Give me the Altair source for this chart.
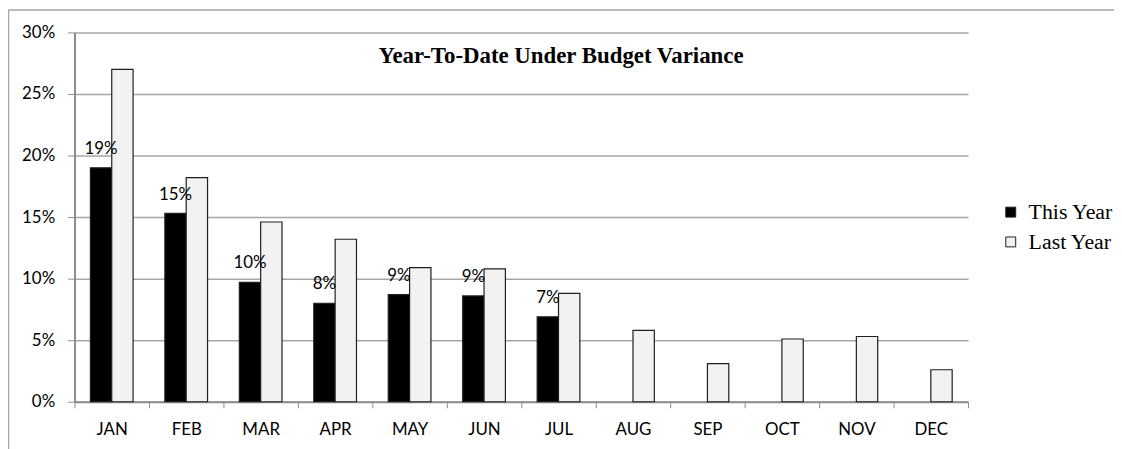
import altair as alt
import pandas as pd

months = ["JAN", "FEB", "MAR", "APR", "MAY", "JUN", "JUL", "AUG", "SEP", "OCT", "NOV", "DEC"]
this_year = [19.0, 15.3, 9.7, 8.0, 8.7, 8.6, 6.9, None, None, None, None, None]
last_year = [27.0, 18.2, 14.6, 13.2, 10.9, 10.8, 8.8, 5.8, 3.1, 5.1, 5.3, 2.6]
series = ["This Year", "Last Year"]
y_ticks = [0, 0.05, 0.10, 0.15, 0.20, 0.25, 0.30]
title_text = "Year-To-Date Under Budget Variance"

rows = []
for m, t, l in zip(months, this_year, last_year):
    if t is not None:
        rows.append({"month": m, "series": "This Year", "value": t / 100})
    rows.append({"month": m, "series": "Last Year", "value": l / 100})
df = pd.DataFrame(rows)

AXIS_FONT = "Lato"
GRID = "#a6a6a6"
DOMAIN = "#8c8c8c"

x_enc = alt.X(
    "month:N", sort=months,
    scale=alt.Scale(domain=months, paddingInner=0, paddingOuter=0),
    axis=alt.Axis(title=None, labelAngle=0, tickBand="extent", tickSize=6,
                  tickColor=DOMAIN, domainColor=DOMAIN, domainWidth=2,
                  labelFont=AXIS_FONT, labelFontSize=17, labelColor="#000",
                  labelPadding=14, grid=False),
)
xoff_enc = alt.XOffset("series:N", sort=series,
                       scale=alt.Scale(domain=series, paddingInner=0, paddingOuter=0.744))
y_enc = alt.Y(
    "value:Q",
    scale=alt.Scale(domain=[0, 0.3], nice=False),
    axis=alt.Axis(title=None, format=".0%", values=y_ticks, tickSize=7,
                  tickColor=DOMAIN, domainColor=DOMAIN, domainWidth=2,
                  gridColor=GRID, gridWidth=1.5,
                  labelFont=AXIS_FONT, labelFontSize=17, labelColor="#000",
                  labelPadding=13),
)

base = alt.Chart(df)

bars = base.mark_bar(stroke="#1f1f1f", strokeWidth=1.2).encode(
    x=x_enc,
    xOffset=xoff_enc,
    y=y_enc,
    fill=alt.Fill(
        "series:N",
        scale=alt.Scale(domain=series, range=["#000000", "#f2f2f2"]),
        legend=alt.Legend(
            title=None, orient="none", legendX=932, legendY=170,
            symbolType="square", symbolSize=100, symbolStrokeColor="#1f1f1f",
            symbolStrokeWidth=1, labelFont="Liberation Serif", labelFontSize=22,
            labelColor="#000", labelOffset=7, rowPadding=8, padding=0,
        ),
    ),
)

labels = base.transform_filter(alt.datum.series == "This Year").mark_text(
    font=AXIS_FONT, fontSize=17, color="#000", baseline="alphabetic", dy=-14
).encode(
    x=alt.X("month:N", sort=months),
    xOffset=alt.XOffset("series:N", sort=series),
    y=alt.Y("value:Q"),
    text=alt.Text("value:Q", format=".0%"),
)

title = alt.Chart(pd.DataFrame({"t": [title_text]})).mark_text(
    font="Liberation Serif", fontSize=23, fontWeight="bold", color="#000",
    baseline="alphabetic", align="center"
).encode(x=alt.value(490), y=alt.value(31), text="t:N")

frame_data = pd.DataFrame({"t": [0]})
frame_top = alt.Chart(frame_data).mark_rule(stroke="#a6a6a6", strokeWidth=1.5).encode(
    x=alt.value(-66.5), x2=alt.value(1300), y=alt.value(-22.5))
frame_left = alt.Chart(frame_data).mark_rule(stroke="#a6a6a6", strokeWidth=1.5).encode(
    x=alt.value(-66.5), y=alt.value(-22.5), y2=alt.value(700))

chart = alt.layer(frame_top, frame_left, bars, labels, title).properties(
    width=900, height=372,
    autosize=alt.AutoSizeParams(type="none"),
    padding={"left": 67, "top": 23, "right": 147, "bottom": 50},
).configure_view(stroke=None)

chart.save("out.html", embed_options={"renderer": "svg", "actions": False})
